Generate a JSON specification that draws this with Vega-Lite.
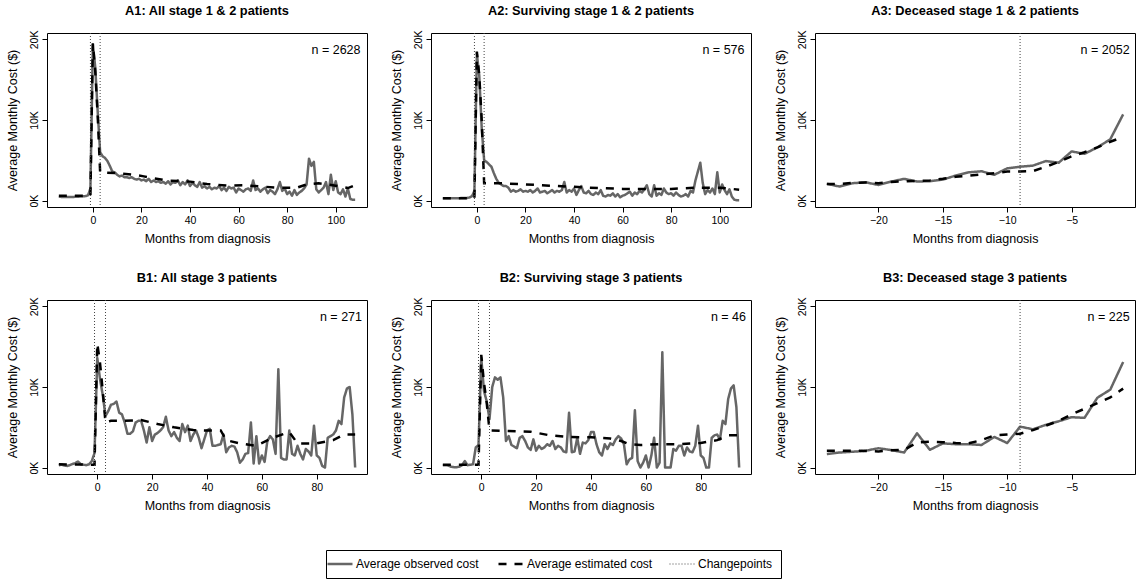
{
"$schema": "https://vega.github.io/schema/vega-lite/v6.json",
"background": "white",
"padding": {"left": 5, "top": 4, "right": 4, "bottom": 4},
"bounds": "flush",
"columns": 3,
"spacing": {"row": 93, "column": 64},
"config": {
  "font": "Liberation Sans",
  "view": {"stroke": "black", "strokeWidth": 1},
  "axis": {"grid": false, "domain": false, "tickColor": "black", "tickSize": 5, "labelColor": "black", "titleColor": "black", "labelFont": "Liberation Sans", "titleFont": "Liberation Sans", "titleFontWeight": "normal", "labelFontSize": 10.5, "titleFontSize": 12.5, "labelFlush": false, "labelOverlap": false},
  "axisX": {"labelPadding": 3, "titlePadding": 7},
  "axisY": {"labelAngle": -90, "labelAlign": "center", "labelBaseline": "bottom", "labelPadding": 3, "titlePadding": 10},
  "title": {"fontSize": 12.8, "fontWeight": "bold", "font": "Liberation Sans", "color": "black", "offset": 12, "anchor": "middle"},
  "legend": {"orient": "none", "legendX": 279, "legendY": 517, "direction": "horizontal", "strokeColor": "black", "padding": 8, "symbolType": "stroke", "symbolSize": 625, "labelFontSize": 12, "labelFont": "Liberation Sans", "labelColor": "black", "labelOffset": 10, "columnPadding": 14, "symbolStrokeWidth": 2.5}
},
"datasets": {
  "cp12": [{"m": -1}, {"m": 3}],
  "cp3": [{"m": -9}],
  "A1o": [{"m":-14,"v":500},{"m":-13,"v":450},{"m":-12,"v":450},{"m":-11,"v":450},{"m":-10,"v":450},{"m":-9,"v":450},{"m":-8,"v":450},{"m":-7,"v":470},{"m":-6,"v":480},{"m":-5,"v":500},{"m":-4,"v":520},{"m":-3,"v":550},{"m":-2,"v":650},{"m":-1,"v":1500},{"m":0,"v":19400},{"m":1,"v":16500},{"m":2,"v":11000},{"m":3,"v":6000},{"m":4,"v":5500},{"m":5,"v":5300},{"m":6,"v":4900},{"m":7,"v":4300},{"m":8,"v":3600},{"m":9,"v":3500},{"m":10,"v":3200},{"m":11,"v":3000},{"m":12,"v":3100},{"m":13,"v":2900},{"m":14,"v":2900},{"m":15,"v":2800},{"m":16,"v":2900},{"m":17,"v":2700},{"m":18,"v":2600},{"m":19,"v":2700},{"m":20,"v":2500},{"m":21,"v":2600},{"m":22,"v":2400},{"m":23,"v":2700},{"m":24,"v":2300},{"m":25,"v":2500},{"m":26,"v":2300},{"m":27,"v":2400},{"m":28,"v":2200},{"m":29,"v":2300},{"m":30,"v":2100},{"m":31,"v":2400},{"m":32,"v":2000},{"m":33,"v":2300},{"m":34,"v":2200},{"m":35,"v":2500},{"m":36,"v":1900},{"m":37,"v":2300},{"m":38,"v":2000},{"m":39,"v":2500},{"m":40,"v":1800},{"m":41,"v":2200},{"m":42,"v":1900},{"m":43,"v":1700},{"m":44,"v":2300},{"m":45,"v":1600},{"m":46,"v":1800},{"m":47,"v":1500},{"m":48,"v":1700},{"m":49,"v":1400},{"m":50,"v":1600},{"m":51,"v":1500},{"m":52,"v":1800},{"m":53,"v":1300},{"m":54,"v":1600},{"m":55,"v":1200},{"m":56,"v":1700},{"m":57,"v":1500},{"m":58,"v":1600},{"m":59,"v":1000},{"m":60,"v":1500},{"m":61,"v":1300},{"m":62,"v":1100},{"m":63,"v":1400},{"m":64,"v":1500},{"m":65,"v":1200},{"m":66,"v":2500},{"m":67,"v":1300},{"m":68,"v":1500},{"m":69,"v":1100},{"m":70,"v":1400},{"m":71,"v":1600},{"m":72,"v":900},{"m":73,"v":1300},{"m":74,"v":1100},{"m":75,"v":800},{"m":76,"v":1400},{"m":77,"v":2300},{"m":78,"v":1200},{"m":79,"v":1500},{"m":80,"v":800},{"m":81,"v":1100},{"m":82,"v":600},{"m":83,"v":1300},{"m":84,"v":700},{"m":85,"v":1000},{"m":86,"v":1200},{"m":87,"v":1500},{"m":88,"v":2000},{"m":89,"v":5200},{"m":90,"v":4300},{"m":91,"v":4800},{"m":92,"v":1400},{"m":93,"v":1000},{"m":94,"v":1300},{"m":95,"v":1600},{"m":96,"v":2300},{"m":97,"v":800},{"m":98,"v":3200},{"m":99,"v":1300},{"m":100,"v":2400},{"m":101,"v":1000},{"m":102,"v":800},{"m":103,"v":1400},{"m":104,"v":500},{"m":105,"v":1500},{"m":106,"v":200},{"m":107,"v":100},{"m":108,"v":100}],
  "A1e": [{"m":-14,"v":600},{"m":-1,"v":600},{"m":0,"v":19500},{"m":1,"v":16000},{"m":2,"v":10500},{"m":3,"v":3500},{"m":10,"v":3400},{"m":17,"v":3200},{"m":21,"v":3000},{"m":30,"v":2500},{"m":40,"v":2350},{"m":47,"v":2050},{"m":55,"v":1870},{"m":62,"v":1900},{"m":69,"v":1750},{"m":76,"v":1600},{"m":84,"v":1600},{"m":88,"v":2000},{"m":93,"v":2150},{"m":100,"v":1850},{"m":105,"v":1550},{"m":108,"v":1900}],
  "A2o": [{"m":-14,"v":300},{"m":-13,"v":280},{"m":-12,"v":280},{"m":-11,"v":300},{"m":-10,"v":300},{"m":-9,"v":300},{"m":-8,"v":290},{"m":-7,"v":300},{"m":-6,"v":310},{"m":-5,"v":320},{"m":-4,"v":330},{"m":-3,"v":380},{"m":-2,"v":550},{"m":-1,"v":1200},{"m":0,"v":18200},{"m":1,"v":15500},{"m":2,"v":9000},{"m":3,"v":5000},{"m":4,"v":4800},{"m":5,"v":4500},{"m":6,"v":4200},{"m":7,"v":3400},{"m":8,"v":2700},{"m":9,"v":2200},{"m":10,"v":2000},{"m":11,"v":1800},{"m":12,"v":1800},{"m":13,"v":1600},{"m":14,"v":1100},{"m":15,"v":1300},{"m":16,"v":1100},{"m":17,"v":1200},{"m":18,"v":1400},{"m":19,"v":1100},{"m":20,"v":1200},{"m":21,"v":1100},{"m":22,"v":1300},{"m":23,"v":1000},{"m":24,"v":1200},{"m":25,"v":1500},{"m":26,"v":1000},{"m":27,"v":1100},{"m":28,"v":1200},{"m":29,"v":900},{"m":30,"v":1100},{"m":31,"v":1300},{"m":32,"v":1000},{"m":33,"v":1200},{"m":34,"v":1100},{"m":35,"v":1300},{"m":36,"v":2300},{"m":37,"v":1000},{"m":38,"v":1300},{"m":39,"v":1100},{"m":40,"v":1500},{"m":41,"v":700},{"m":42,"v":1300},{"m":43,"v":1800},{"m":44,"v":1000},{"m":45,"v":900},{"m":46,"v":1200},{"m":47,"v":800},{"m":48,"v":700},{"m":49,"v":1000},{"m":50,"v":800},{"m":51,"v":1300},{"m":52,"v":600},{"m":53,"v":500},{"m":54,"v":700},{"m":55,"v":600},{"m":56,"v":900},{"m":57,"v":500},{"m":58,"v":800},{"m":59,"v":400},{"m":60,"v":600},{"m":61,"v":700},{"m":62,"v":900},{"m":63,"v":1100},{"m":64,"v":600},{"m":65,"v":1000},{"m":66,"v":800},{"m":67,"v":1200},{"m":68,"v":1000},{"m":69,"v":1400},{"m":70,"v":1900},{"m":71,"v":800},{"m":72,"v":500},{"m":73,"v":1900},{"m":74,"v":600},{"m":75,"v":900},{"m":76,"v":700},{"m":77,"v":1500},{"m":78,"v":1000},{"m":79,"v":800},{"m":80,"v":900},{"m":81,"v":600},{"m":82,"v":1000},{"m":83,"v":700},{"m":84,"v":500},{"m":85,"v":600},{"m":86,"v":800},{"m":87,"v":500},{"m":88,"v":1200},{"m":89,"v":1000},{"m":90,"v":2500},{"m":91,"v":3600},{"m":92,"v":4700},{"m":93,"v":2200},{"m":94,"v":800},{"m":95,"v":1300},{"m":96,"v":1000},{"m":97,"v":1500},{"m":98,"v":800},{"m":99,"v":3500},{"m":100,"v":1000},{"m":101,"v":2000},{"m":102,"v":1300},{"m":103,"v":800},{"m":104,"v":1400},{"m":105,"v":500},{"m":106,"v":100},{"m":107,"v":50},{"m":108,"v":50}],
  "A2e": [{"m":-14,"v":300},{"m":-1,"v":300},{"m":0,"v":18500},{"m":1,"v":15500},{"m":2,"v":10000},{"m":3,"v":2150},{"m":10,"v":2150},{"m":20,"v":2000},{"m":30,"v":1850},{"m":40,"v":1700},{"m":50,"v":1550},{"m":60,"v":1450},{"m":80,"v":1450},{"m":90,"v":1600},{"m":100,"v":1600},{"m":108,"v":1350}],
  "A3o": [{"m":-24,"v":2070},{"m":-23,"v":1740},{"m":-22,"v":2150},{"m":-21,"v":2270},{"m":-20,"v":1940},{"m":-19,"v":2360},{"m":-18,"v":2690},{"m":-17,"v":2360},{"m":-16,"v":2400},{"m":-15,"v":2600},{"m":-14,"v":3100},{"m":-13,"v":3500},{"m":-12,"v":3640},{"m":-11,"v":3200},{"m":-10,"v":4000},{"m":-9,"v":4200},{"m":-8,"v":4340},{"m":-7,"v":4900},{"m":-6,"v":4700},{"m":-5,"v":6100},{"m":-4,"v":5800},{"m":-3,"v":6600},{"m":-2,"v":7600},{"m":-1,"v":10700}],
  "A3e": [{"m":-24,"v":2050},{"m":-23,"v":2050},{"m":-22,"v":2200},{"m":-21,"v":2250},{"m":-20,"v":2150},{"m":-19,"v":2300},{"m":-18,"v":2400},{"m":-17,"v":2450},{"m":-16,"v":2500},{"m":-15,"v":2700},{"m":-14,"v":2950},{"m":-13,"v":3100},{"m":-12,"v":3250},{"m":-11,"v":3400},{"m":-10,"v":3600},{"m":-9,"v":3600},{"m":-8,"v":3650},{"m":-7,"v":4200},{"m":-6,"v":4800},{"m":-5,"v":5500},{"m":-4,"v":6000},{"m":-3,"v":6600},{"m":-2,"v":7300},{"m":-1,"v":7900}],
  "B1o": [{"m":-14,"v":300},{"m":-13,"v":350},{"m":-12,"v":250},{"m":-11,"v":200},{"m":-10,"v":300},{"m":-9,"v":450},{"m":-8,"v":550},{"m":-7,"v":750},{"m":-6,"v":400},{"m":-5,"v":350},{"m":-4,"v":300},{"m":-3,"v":400},{"m":-2,"v":800},{"m":-1,"v":1800},{"m":0,"v":13600},{"m":1,"v":11000},{"m":2,"v":9000},{"m":3,"v":6400},{"m":4,"v":7000},{"m":5,"v":7800},{"m":6,"v":7900},{"m":7,"v":8200},{"m":8,"v":6800},{"m":9,"v":6600},{"m":10,"v":5600},{"m":11,"v":4200},{"m":12,"v":4200},{"m":13,"v":4500},{"m":14,"v":5600},{"m":15,"v":5800},{"m":16,"v":5800},{"m":17,"v":4600},{"m":18,"v":3100},{"m":19,"v":5000},{"m":20,"v":3300},{"m":21,"v":4100},{"m":22,"v":4300},{"m":23,"v":4600},{"m":24,"v":5000},{"m":25,"v":6300},{"m":26,"v":4600},{"m":27,"v":3900},{"m":28,"v":4400},{"m":29,"v":3700},{"m":30,"v":3300},{"m":31,"v":5400},{"m":32,"v":4400},{"m":33,"v":5200},{"m":34,"v":3300},{"m":35,"v":4100},{"m":36,"v":4600},{"m":37,"v":3700},{"m":38,"v":2400},{"m":39,"v":3500},{"m":40,"v":4600},{"m":41,"v":4800},{"m":42,"v":2700},{"m":43,"v":2700},{"m":44,"v":2800},{"m":45,"v":2900},{"m":46,"v":4100},{"m":47,"v":1900},{"m":48,"v":2500},{"m":49,"v":2700},{"m":50,"v":2600},{"m":51,"v":1900},{"m":52,"v":600},{"m":53,"v":1000},{"m":54,"v":1700},{"m":55,"v":1800},{"m":56,"v":5600},{"m":57,"v":500},{"m":58,"v":3900},{"m":59,"v":500},{"m":60,"v":1500},{"m":61,"v":700},{"m":62,"v":3300},{"m":63,"v":3900},{"m":64,"v":3500},{"m":65,"v":1700},{"m":66,"v":12200},{"m":67,"v":1200},{"m":68,"v":1000},{"m":69,"v":1000},{"m":70,"v":4600},{"m":71,"v":1700},{"m":72,"v":1500},{"m":73,"v":2700},{"m":74,"v":1700},{"m":75,"v":1000},{"m":76,"v":2300},{"m":77,"v":2000},{"m":78,"v":1500},{"m":79,"v":5200},{"m":80,"v":1500},{"m":81,"v":1200},{"m":82,"v":200},{"m":83,"v":0},{"m":84,"v":3700},{"m":85,"v":3900},{"m":86,"v":4100},{"m":87,"v":4600},{"m":88,"v":5800},{"m":89,"v":5400},{"m":90,"v":8700},{"m":91,"v":9800},{"m":92,"v":10000},{"m":93,"v":6600},{"m":94,"v":0}],
  "B1e": [{"m":-14,"v":400},{"m":-1,"v":350},{"m":0,"v":15400},{"m":1,"v":13000},{"m":2,"v":9500},{"m":3,"v":5600},{"m":5,"v":5800},{"m":10,"v":5800},{"m":16,"v":5900},{"m":22,"v":5400},{"m":28,"v":5000},{"m":35,"v":4650},{"m":40,"v":4600},{"m":45,"v":4600},{"m":47,"v":3400},{"m":52,"v":3000},{"m":58,"v":2700},{"m":64,"v":3700},{"m":70,"v":4400},{"m":73,"v":3000},{"m":80,"v":3000},{"m":86,"v":3400},{"m":90,"v":4100},{"m":94,"v":4100}],
  "B2o": [{"m":-14,"v":300},{"m":-13,"v":300},{"m":-12,"v":250},{"m":-11,"v":100},{"m":-10,"v":50},{"m":-9,"v":50},{"m":-8,"v":100},{"m":-7,"v":300},{"m":-6,"v":800},{"m":-5,"v":300},{"m":-4,"v":350},{"m":-3,"v":400},{"m":-2,"v":2500},{"m":-1,"v":2800},{"m":0,"v":13600},{"m":1,"v":9500},{"m":2,"v":8200},{"m":3,"v":6000},{"m":4,"v":10000},{"m":5,"v":11200},{"m":6,"v":10900},{"m":7,"v":11200},{"m":8,"v":8700},{"m":9,"v":3300},{"m":10,"v":3900},{"m":11,"v":2800},{"m":12,"v":2600},{"m":13,"v":2400},{"m":14,"v":3700},{"m":15,"v":3900},{"m":16,"v":3300},{"m":17,"v":2500},{"m":18,"v":2200},{"m":19,"v":3500},{"m":20,"v":2100},{"m":21,"v":2700},{"m":22,"v":2300},{"m":23,"v":2500},{"m":24,"v":2900},{"m":25,"v":2700},{"m":26,"v":3300},{"m":27,"v":2300},{"m":28,"v":2700},{"m":29,"v":2500},{"m":30,"v":2000},{"m":31,"v":1900},{"m":32,"v":6800},{"m":33,"v":1900},{"m":34,"v":2000},{"m":35,"v":3700},{"m":36,"v":1700},{"m":37,"v":3100},{"m":38,"v":3000},{"m":39,"v":3400},{"m":40,"v":4400},{"m":41,"v":4400},{"m":42,"v":2900},{"m":43,"v":1900},{"m":44,"v":1500},{"m":45,"v":2900},{"m":46,"v":2300},{"m":47,"v":3000},{"m":48,"v":2800},{"m":49,"v":3500},{"m":50,"v":3900},{"m":51,"v":3600},{"m":52,"v":2900},{"m":53,"v":400},{"m":54,"v":1000},{"m":55,"v":1200},{"m":56,"v":7100},{"m":57,"v":800},{"m":58,"v":0},{"m":59,"v":600},{"m":60,"v":1500},{"m":61,"v":0},{"m":62,"v":1500},{"m":63,"v":3700},{"m":64,"v":0},{"m":65,"v":600},{"m":66,"v":14300},{"m":67,"v":0},{"m":68,"v":0},{"m":69,"v":0},{"m":70,"v":2300},{"m":71,"v":2100},{"m":72,"v":2700},{"m":73,"v":2700},{"m":74,"v":1500},{"m":75,"v":2500},{"m":76,"v":2000},{"m":77,"v":1900},{"m":78,"v":2700},{"m":79,"v":5200},{"m":80,"v":1500},{"m":81,"v":1200},{"m":82,"v":0},{"m":83,"v":0},{"m":84,"v":3700},{"m":85,"v":4000},{"m":86,"v":4100},{"m":87,"v":3500},{"m":88,"v":5800},{"m":89,"v":5400},{"m":90,"v":8500},{"m":91,"v":9800},{"m":92,"v":10200},{"m":93,"v":7500},{"m":94,"v":0}],
  "B2e": [{"m":-14,"v":350},{"m":-1,"v":350},{"m":0,"v":14000},{"m":1,"v":10500},{"m":2,"v":8000},{"m":3,"v":4600},{"m":10,"v":4550},{"m":18,"v":4450},{"m":25,"v":4000},{"m":32,"v":3800},{"m":40,"v":3750},{"m":47,"v":3600},{"m":51,"v":3300},{"m":54,"v":2900},{"m":58,"v":2800},{"m":65,"v":2900},{"m":72,"v":2900},{"m":80,"v":3050},{"m":86,"v":3400},{"m":90,"v":4000},{"m":94,"v":4000}],
  "B3o": [{"m":-24,"v":1670},{"m":-23,"v":1870},{"m":-22,"v":1960},{"m":-21,"v":2080},{"m":-20,"v":2400},{"m":-19,"v":2170},{"m":-18,"v":1870},{"m":-17,"v":4250},{"m":-16,"v":2200},{"m":-15,"v":3000},{"m":-14,"v":2900},{"m":-13,"v":2900},{"m":-12,"v":2800},{"m":-11,"v":3800},{"m":-10,"v":3040},{"m":-9,"v":5080},{"m":-8,"v":4750},{"m":-7,"v":5300},{"m":-6,"v":5750},{"m":-5,"v":6250},{"m":-4,"v":6170},{"m":-3,"v":8670},{"m":-2,"v":9670},{"m":-1,"v":13100}],
  "B3e": [{"m":-24,"v":2080},{"m":-23,"v":2080},{"m":-22,"v":2100},{"m":-21,"v":2050},{"m":-20,"v":2000},{"m":-19,"v":2150},{"m":-18,"v":2200},{"m":-17,"v":3100},{"m":-16,"v":3200},{"m":-15,"v":3150},{"m":-14,"v":3050},{"m":-13,"v":3000},{"m":-12,"v":3400},{"m":-11,"v":4000},{"m":-10,"v":4100},{"m":-9,"v":4200},{"m":-8,"v":4650},{"m":-7,"v":5200},{"m":-6,"v":5800},{"m":-5,"v":6600},{"m":-4,"v":7300},{"m":-3,"v":8000},{"m":-2,"v":8700},{"m":-1,"v":9800}]
},
"concat": [
  {"width": 320, "height": 174, "title": "A1: All stage 1 & 2 patients", "layer": [
   {"data": {"name": "A1o"}, "mark": {"type": "line", "strokeWidth": 2.5, "strokeJoin": "round"}, "encoding": {
     "x": {"field": "m", "type": "quantitative", "scale": {"domain": [-18.88, 112.88], "nice": false, "zero": false}, "axis": {"values": [0, 20, 40, 60, 80, 100], "title": "Months from diagnosis"}},
     "y": {"field": "v", "type": "quantitative", "scale": {"domain": [-800, 20800], "nice": false, "zero": false}, "axis": {"values": [0, 10000, 20000], "labelExpr": "datum.value / 1000 + 'K'", "title": "Average Monthly Cost ($)"}},
     "color": {"datum": "Average observed cost", "type": "nominal", "scale": {"domain": ["Average observed cost", "Average estimated cost", "Changepoints"], "range": ["#666666", "#000000", "#444444"]}, "legend": {"title": null, "encode": {"symbols": {"update": {"strokeWidth": {"signal": "datum.value === 'Changepoints' ? 1 : 2.5"}}}}}},
     "strokeDash": {"datum": "Average observed cost", "type": "nominal", "scale": {"domain": ["Average observed cost", "Average estimated cost", "Changepoints"], "range": [[1, 0], [8, 8], [1, 2]]}, "legend": {"title": null}}}},
   {"data": {"name": "A1e"}, "mark": {"type": "line", "strokeWidth": 2.5}, "encoding": {"x": {"field": "m", "type": "quantitative"}, "y": {"field": "v", "type": "quantitative"}, "color": {"datum": "Average estimated cost", "type": "nominal"}, "strokeDash": {"datum": "Average estimated cost", "type": "nominal"}}},
   {"data": {"name": "cp12"}, "mark": {"type": "rule", "strokeWidth": 1}, "encoding": {"x": {"field": "m", "type": "quantitative"}, "color": {"datum": "Changepoints", "type": "nominal"}, "strokeDash": {"datum": "Changepoints", "type": "nominal"}}},
   {"data": {"values": [{"n": "n = 2628"}]}, "mark": {"type": "text", "align": "right", "baseline": "middle", "fontSize": 12.5, "color": "black"}, "encoding": {"x": {"datum": 110.2, "type": "quantitative"}, "y": {"datum": 18700, "type": "quantitative"}, "text": {"field": "n"}}}
  ]},
  {"width": 320, "height": 174, "title": "A2: Surviving stage 1 & 2 patients", "layer": [
   {"data": {"name": "A2o"}, "mark": {"type": "line", "strokeWidth": 2.5, "strokeJoin": "round"}, "encoding": {
     "x": {"field": "m", "type": "quantitative", "scale": {"domain": [-18.88, 112.88], "nice": false, "zero": false}, "axis": {"values": [0, 20, 40, 60, 80, 100], "title": "Months from diagnosis"}},
     "y": {"field": "v", "type": "quantitative", "scale": {"domain": [-800, 20800], "nice": false, "zero": false}, "axis": {"values": [0, 10000, 20000], "labelExpr": "datum.value / 1000 + 'K'", "title": "Average Monthly Cost ($)"}},
     "color": {"datum": "Average observed cost", "type": "nominal"},
     "strokeDash": {"datum": "Average observed cost", "type": "nominal"}}},
   {"data": {"name": "A2e"}, "mark": {"type": "line", "strokeWidth": 2.5}, "encoding": {"x": {"field": "m", "type": "quantitative"}, "y": {"field": "v", "type": "quantitative"}, "color": {"datum": "Average estimated cost", "type": "nominal"}, "strokeDash": {"datum": "Average estimated cost", "type": "nominal"}}},
   {"data": {"name": "cp12"}, "mark": {"type": "rule", "strokeWidth": 1}, "encoding": {"x": {"field": "m", "type": "quantitative"}, "color": {"datum": "Changepoints", "type": "nominal"}, "strokeDash": {"datum": "Changepoints", "type": "nominal"}}},
   {"data": {"values": [{"n": "n = 576"}]}, "mark": {"type": "text", "align": "right", "baseline": "middle", "fontSize": 12.5, "color": "black"}, "encoding": {"x": {"datum": 110.2, "type": "quantitative"}, "y": {"datum": 18700, "type": "quantitative"}, "text": {"field": "n"}}}
  ]},
  {"width": 320, "height": 174, "title": "A3: Deceased stage 1 & 2 patients", "layer": [
   {"data": {"name": "A3o"}, "mark": {"type": "line", "strokeWidth": 2.5, "strokeJoin": "round"}, "encoding": {
     "x": {"field": "m", "type": "quantitative", "scale": {"domain": [-24.92, -0.08], "nice": false, "zero": false}, "axis": {"values": [-20, -15, -10, -5], "title": "Months from diagnosis"}},
     "y": {"field": "v", "type": "quantitative", "scale": {"domain": [-800, 20800], "nice": false, "zero": false}, "axis": {"values": [0, 10000, 20000], "labelExpr": "datum.value / 1000 + 'K'", "title": "Average Monthly Cost ($)"}},
     "color": {"datum": "Average observed cost", "type": "nominal"},
     "strokeDash": {"datum": "Average observed cost", "type": "nominal"}}},
   {"data": {"name": "A3e"}, "mark": {"type": "line", "strokeWidth": 2.5}, "encoding": {"x": {"field": "m", "type": "quantitative"}, "y": {"field": "v", "type": "quantitative"}, "color": {"datum": "Average estimated cost", "type": "nominal"}, "strokeDash": {"datum": "Average estimated cost", "type": "nominal"}}},
   {"data": {"name": "cp3"}, "mark": {"type": "rule", "strokeWidth": 1}, "encoding": {"x": {"field": "m", "type": "quantitative"}, "color": {"datum": "Changepoints", "type": "nominal"}, "strokeDash": {"datum": "Changepoints", "type": "nominal"}}},
   {"data": {"values": [{"n": "n = 2052"}]}, "mark": {"type": "text", "align": "right", "baseline": "middle", "fontSize": 12.5, "color": "black"}, "encoding": {"x": {"datum": -0.5, "type": "quantitative"}, "y": {"datum": 18700, "type": "quantitative"}, "text": {"field": "n"}}}
  ]},
  {"width": 320, "height": 174, "title": "B1: All stage 3 patients", "layer": [
   {"data": {"name": "B1o"}, "mark": {"type": "line", "strokeWidth": 2.5, "strokeJoin": "round"}, "encoding": {
     "x": {"field": "m", "type": "quantitative", "scale": {"domain": [-18.32, 98.32], "nice": false, "zero": false}, "axis": {"values": [0, 20, 40, 60, 80], "title": "Months from diagnosis"}},
     "y": {"field": "v", "type": "quantitative", "scale": {"domain": [-800, 20800], "nice": false, "zero": false}, "axis": {"values": [0, 10000, 20000], "labelExpr": "datum.value / 1000 + 'K'", "title": "Average Monthly Cost ($)"}},
     "color": {"datum": "Average observed cost", "type": "nominal"},
     "strokeDash": {"datum": "Average observed cost", "type": "nominal"}}},
   {"data": {"name": "B1e"}, "mark": {"type": "line", "strokeWidth": 2.5}, "encoding": {"x": {"field": "m", "type": "quantitative"}, "y": {"field": "v", "type": "quantitative"}, "color": {"datum": "Average estimated cost", "type": "nominal"}, "strokeDash": {"datum": "Average estimated cost", "type": "nominal"}}},
   {"data": {"name": "cp12"}, "mark": {"type": "rule", "strokeWidth": 1}, "encoding": {"x": {"field": "m", "type": "quantitative"}, "color": {"datum": "Changepoints", "type": "nominal"}, "strokeDash": {"datum": "Changepoints", "type": "nominal"}}},
   {"data": {"values": [{"n": "n = 271"}]}, "mark": {"type": "text", "align": "right", "baseline": "middle", "fontSize": 12.5, "color": "black"}, "encoding": {"x": {"datum": 96.5, "type": "quantitative"}, "y": {"datum": 18700, "type": "quantitative"}, "text": {"field": "n"}}}
  ]},
  {"width": 320, "height": 174, "title": "B2: Surviving stage 3 patients", "layer": [
   {"data": {"name": "B2o"}, "mark": {"type": "line", "strokeWidth": 2.5, "strokeJoin": "round"}, "encoding": {
     "x": {"field": "m", "type": "quantitative", "scale": {"domain": [-18.32, 98.32], "nice": false, "zero": false}, "axis": {"values": [0, 20, 40, 60, 80], "title": "Months from diagnosis"}},
     "y": {"field": "v", "type": "quantitative", "scale": {"domain": [-800, 20800], "nice": false, "zero": false}, "axis": {"values": [0, 10000, 20000], "labelExpr": "datum.value / 1000 + 'K'", "title": "Average Monthly Cost ($)"}},
     "color": {"datum": "Average observed cost", "type": "nominal"},
     "strokeDash": {"datum": "Average observed cost", "type": "nominal"}}},
   {"data": {"name": "B2e"}, "mark": {"type": "line", "strokeWidth": 2.5}, "encoding": {"x": {"field": "m", "type": "quantitative"}, "y": {"field": "v", "type": "quantitative"}, "color": {"datum": "Average estimated cost", "type": "nominal"}, "strokeDash": {"datum": "Average estimated cost", "type": "nominal"}}},
   {"data": {"name": "cp12"}, "mark": {"type": "rule", "strokeWidth": 1}, "encoding": {"x": {"field": "m", "type": "quantitative"}, "color": {"datum": "Changepoints", "type": "nominal"}, "strokeDash": {"datum": "Changepoints", "type": "nominal"}}},
   {"data": {"values": [{"n": "n = 46"}]}, "mark": {"type": "text", "align": "right", "baseline": "middle", "fontSize": 12.5, "color": "black"}, "encoding": {"x": {"datum": 96.5, "type": "quantitative"}, "y": {"datum": 18700, "type": "quantitative"}, "text": {"field": "n"}}}
  ]},
  {"width": 320, "height": 174, "title": "B3: Deceased stage 3 patients", "layer": [
   {"data": {"name": "B3o"}, "mark": {"type": "line", "strokeWidth": 2.5, "strokeJoin": "round"}, "encoding": {
     "x": {"field": "m", "type": "quantitative", "scale": {"domain": [-24.92, -0.08], "nice": false, "zero": false}, "axis": {"values": [-20, -15, -10, -5], "title": "Months from diagnosis"}},
     "y": {"field": "v", "type": "quantitative", "scale": {"domain": [-800, 20800], "nice": false, "zero": false}, "axis": {"values": [0, 10000, 20000], "labelExpr": "datum.value / 1000 + 'K'", "title": "Average Monthly Cost ($)"}},
     "color": {"datum": "Average observed cost", "type": "nominal"},
     "strokeDash": {"datum": "Average observed cost", "type": "nominal"}}},
   {"data": {"name": "B3e"}, "mark": {"type": "line", "strokeWidth": 2.5}, "encoding": {"x": {"field": "m", "type": "quantitative"}, "y": {"field": "v", "type": "quantitative"}, "color": {"datum": "Average estimated cost", "type": "nominal"}, "strokeDash": {"datum": "Average estimated cost", "type": "nominal"}}},
   {"data": {"name": "cp3"}, "mark": {"type": "rule", "strokeWidth": 1}, "encoding": {"x": {"field": "m", "type": "quantitative"}, "color": {"datum": "Changepoints", "type": "nominal"}, "strokeDash": {"datum": "Changepoints", "type": "nominal"}}},
   {"data": {"values": [{"n": "n = 225"}]}, "mark": {"type": "text", "align": "right", "baseline": "middle", "fontSize": 12.5, "color": "black"}, "encoding": {"x": {"datum": -0.5, "type": "quantitative"}, "y": {"datum": 18700, "type": "quantitative"}, "text": {"field": "n"}}}
  ]}
]
}
